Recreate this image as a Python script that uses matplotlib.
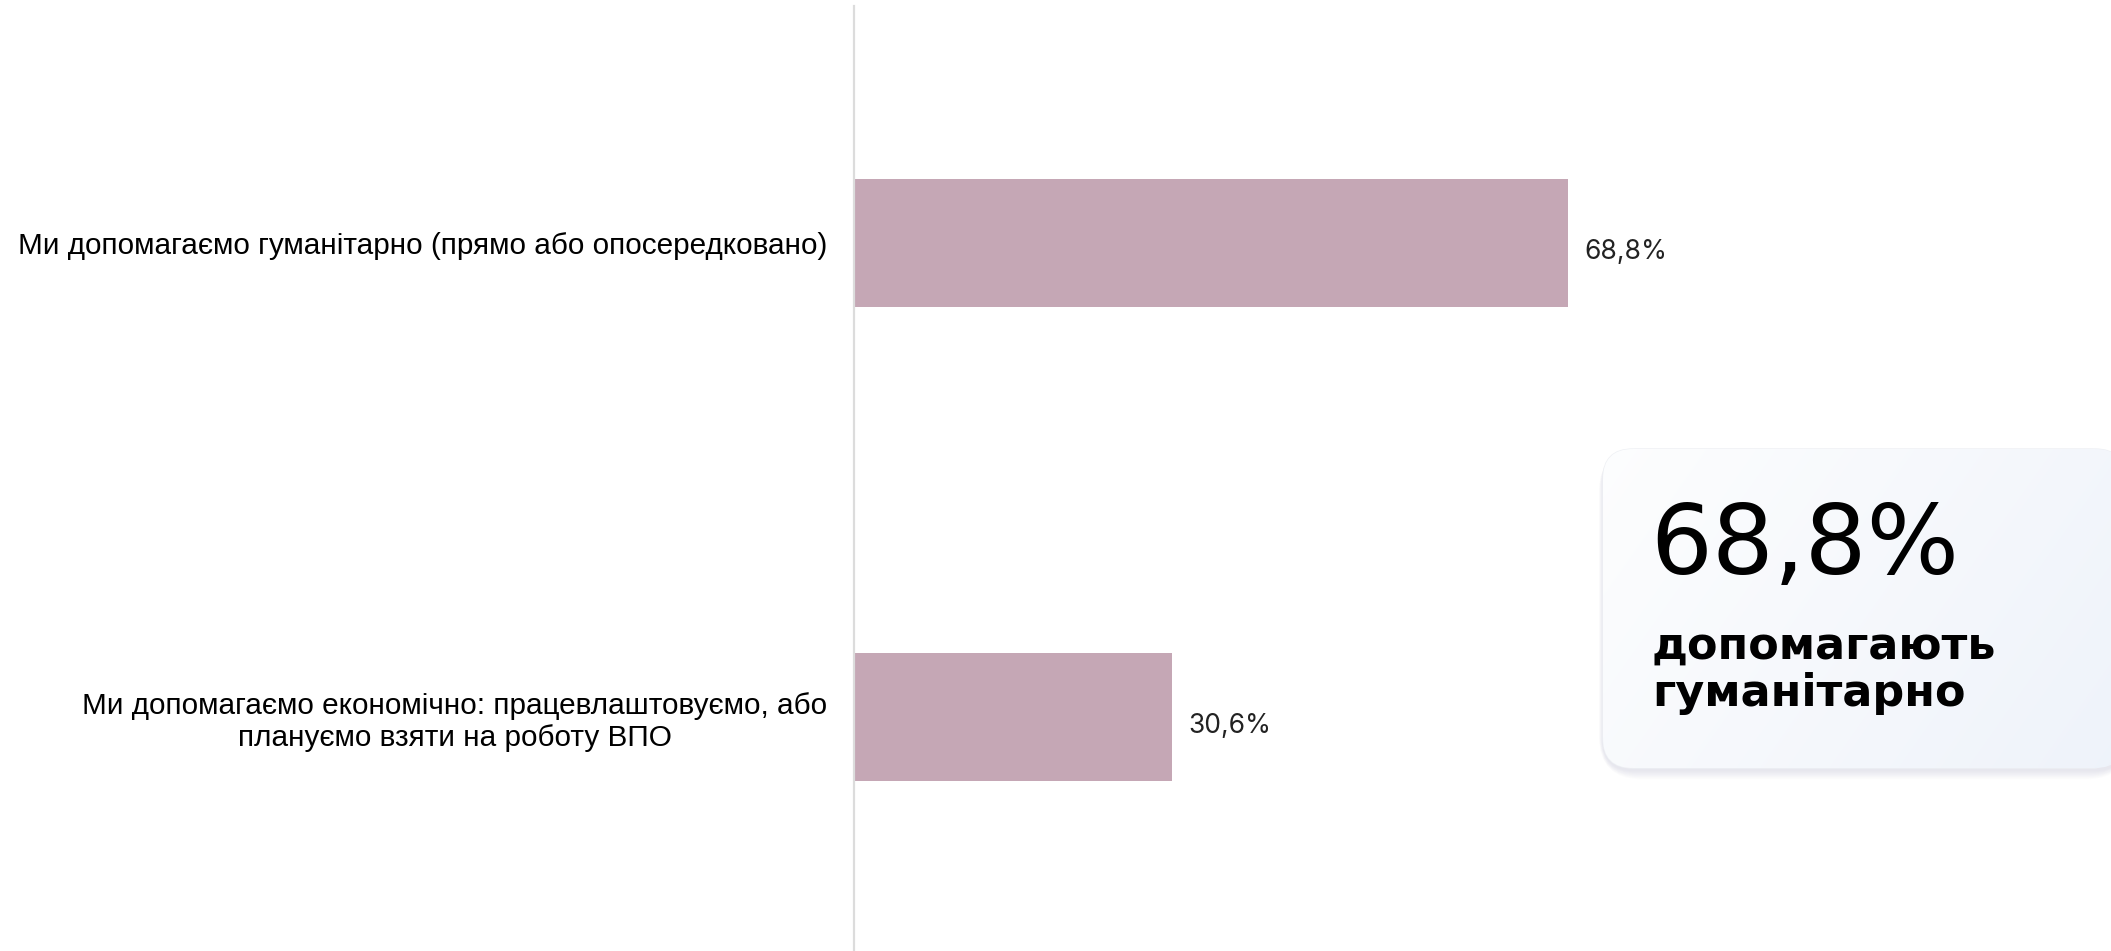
import numpy as np
import matplotlib
matplotlib.use('Agg')
import matplotlib.pyplot as plt
from matplotlib.patches import FancyBboxPatch

categories = [
    'Ми допомагаємо гуманітарно (прямо або опосередковано)',
    'Ми допомагаємо економічно: працевлаштовуємо, або\nплануємо взяти на роботу ВПО',
]
values = [68.8, 30.6]
value_labels = ['68,8%', '30,6%']
card_number = '68,8%'
card_lines = ['допомагають', 'гуманітарно']

W, H = 2111, 951
fig = plt.figure(figsize=(W/100, H/100), dpi=100)
fig.patch.set_facecolor('white')

# main chart
ax = fig.add_axes([854/W, -3/H, (1892-854)/W, 948/H])
y = np.arange(len(categories))
ax.barh(y, values, height=0.27, color='#c5a7b5')
ax.set_xlim(0, 100)
ax.set_ylim(1.5, -0.5)
ax.set_yticks(y)
ax.set_yticklabels(categories, fontsize=21.4, family='Liberation Sans', multialignment='center')
ax.tick_params(axis='y', length=0, pad=19)
ax.set_xticks([])
for s in ['top', 'right', 'bottom']:
    ax.spines[s].set_visible(False)
ax.spines['left'].set_color('#dcdcdc')
ax.spines['left'].set_linewidth(1.6)
for yi, v, lab in zip(y, values, value_labels):
    ax.text(v + 1.6, yi + 0.02, lab, va='center', ha='left', fontsize=19,
            family='Inter', color='#222222')

# highlight card
ov = fig.add_axes([0, 0, 1, 1], zorder=5)
ov.axis('off')
x0, y0, x1, y1 = 1603, 449, 2125, 768
for k in range(8):
    d = 2 + k * 1.6
    ov.add_patch(FancyBboxPatch((x0 - d*0.3, y0 + 2 - d*0.2), (x1 - x0) + d*0.6, (y1 - y0) + d*0.9,
                                boxstyle='round,pad=0,rounding_size=%d' % (30 + d),
                                facecolor='#8090a8', edgecolor='none', alpha=0.025))
card = FancyBboxPatch((x0, y0), x1 - x0, y1 - y0, boxstyle='round,pad=0,rounding_size=30',
                      facecolor='none', edgecolor='#eef0f4', linewidth=1)
ov.add_patch(card)
gx = np.linspace(0, 1, 200)
gy = np.linspace(0, 1, 100)
GX, GY = np.meshgrid(gx, gy)
t = np.clip(0.7 * GX + 0.3 * GY, 0, 1)
c0 = np.array([0.992, 0.994, 0.997])
c1 = np.array([0.935, 0.952, 0.980])
img = c0[None, None, :] * (1 - t[..., None]) + c1[None, None, :] * t[..., None]
im = ov.imshow(img, extent=(x0, x1, y1, y0), aspect='auto', zorder=1, interpolation='bilinear')
im.set_clip_path(card)
ov.set_xlim(0, W)
ov.set_ylim(H, 0)
ov.text(1650, 574, card_number, fontsize=70, family='DejaVu Sans', color='black',
        va='baseline', ha='left', zorder=3)
for i, line in enumerate(card_lines):
    ov.text(1652, 659 + 47 * i, line, fontsize=32, family='DejaVu Sans', fontweight='bold',
            color='black', va='baseline', ha='left', zorder=3)

fig.savefig('out.png', dpi=100)
